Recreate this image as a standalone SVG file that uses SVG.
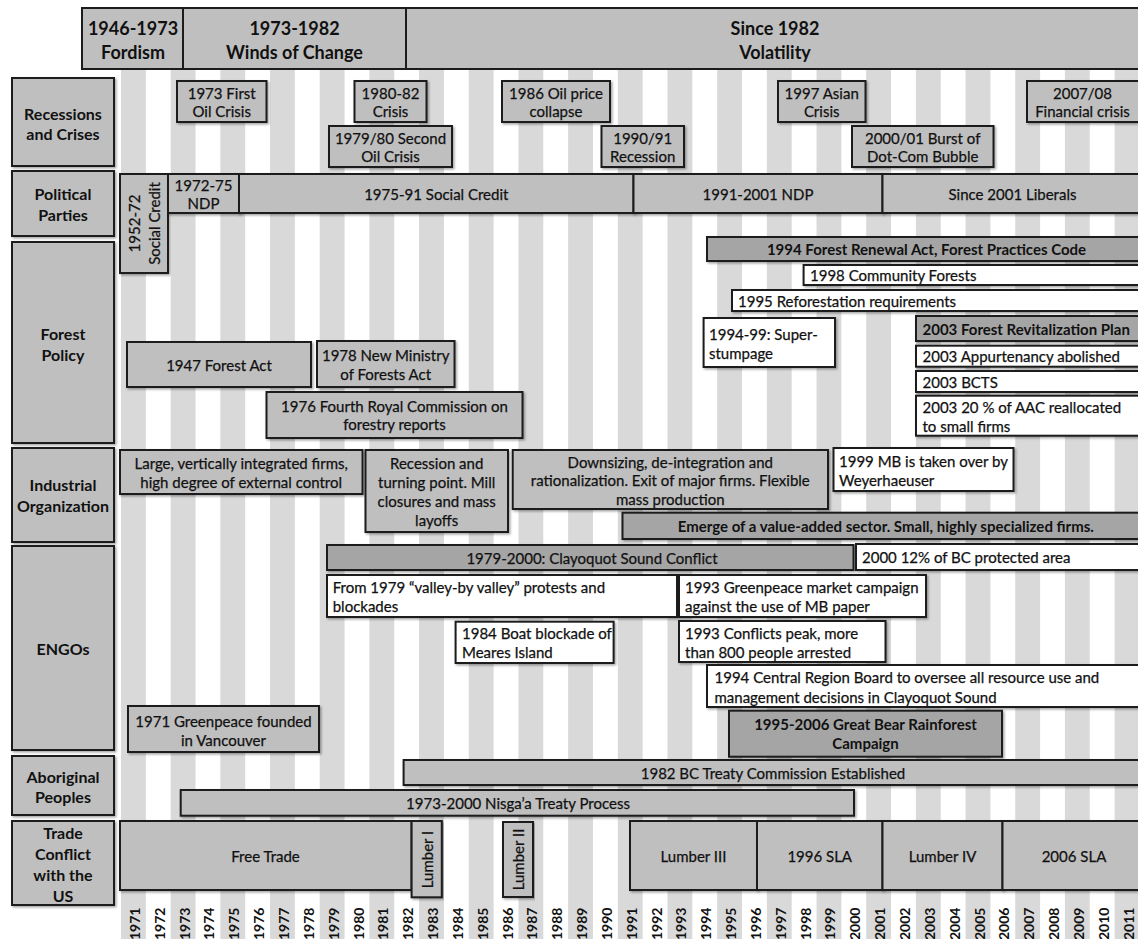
<svg xmlns="http://www.w3.org/2000/svg" width="1138" height="939" viewBox="0 0 1138 939">
<defs>
<filter id="sh" x="-5%" y="-10%" width="110%" height="130%">
<feDropShadow dx="1.5" dy="1.5" stdDeviation="0.8" flood-color="#000" flood-opacity="0.35"/>
</filter>
<style>
.bx{fill:#bfbfbf;stroke:#1c1c1c;stroke-width:2;filter:url(#sh)}
.dk{fill:#a5a5a5;stroke:#1c1c1c;stroke-width:2;filter:url(#sh)}
.wh{fill:#ffffff;stroke:#1c1c1c;stroke-width:2;filter:url(#sh)}
.hd{fill:#bfbfbf;stroke:#1c1c1c;stroke-width:2}
.st{fill:#d9d9d9}
text{font-family:Lato,"Liberation Sans",sans-serif;fill:#111;dominant-baseline:central}
.t{font-size:15px;stroke:#111;stroke-width:0.25}
.c{text-anchor:middle}
.b{font-weight:bold;stroke-width:0}
.h{font-size:18px;font-weight:bold;text-anchor:middle}
.l{font-size:16px;font-weight:bold;text-anchor:middle}
.yr{font-size:14px;font-weight:bold}
</style>
</defs>
<rect x="0" y="0" width="1138" height="939" fill="#ffffff"/>
<g id="stripes">
<rect class="st" x="121" y="69" width="24.84" height="870"/>
<rect class="st" x="170.68" y="69" width="24.84" height="870"/>
<rect class="st" x="220.36" y="69" width="24.84" height="870"/>
<rect class="st" x="270.04" y="69" width="24.84" height="870"/>
<rect class="st" x="319.72" y="69" width="24.84" height="870"/>
<rect class="st" x="369.4" y="69" width="24.84" height="870"/>
<rect class="st" x="419.08" y="69" width="24.84" height="870"/>
<rect class="st" x="468.76" y="69" width="24.84" height="870"/>
<rect class="st" x="518.44" y="69" width="24.84" height="870"/>
<rect class="st" x="568.12" y="69" width="24.84" height="870"/>
<rect class="st" x="617.8" y="69" width="24.84" height="870"/>
<rect class="st" x="667.48" y="69" width="24.84" height="870"/>
<rect class="st" x="717.16" y="69" width="24.84" height="870"/>
<rect class="st" x="766.84" y="69" width="24.84" height="870"/>
<rect class="st" x="816.52" y="69" width="24.84" height="870"/>
<rect class="st" x="866.2" y="69" width="24.84" height="870"/>
<rect class="st" x="915.88" y="69" width="24.84" height="870"/>
<rect class="st" x="965.56" y="69" width="24.84" height="870"/>
<rect class="st" x="1015.24" y="69" width="24.84" height="870"/>
<rect class="st" x="1064.92" y="69" width="24.84" height="870"/>
<rect class="st" x="1114.6" y="69" width="24.84" height="870"/>
</g>

<g id="header">
<g id="era-fordism"><rect class="hd" x="82" y="8" width="101" height="61"/>
<text class="h" x="133" y="28">1946-1973</text><text class="h" x="133" y="52">Fordism</text></g>
<g id="era-winds"><rect class="hd" x="183" y="8" width="223" height="61"/>
<text class="h" x="294.5" y="28">1973-1982</text><text class="h" x="294.5" y="52">Winds of Change</text></g>
<g id="era-volatility"><rect class="hd" x="406" y="8" width="746" height="61"/>
<text class="h" x="775" y="28">Since 1982</text><text class="h" x="775" y="52">Volatility</text></g>
</g>

<g id="row-labels">
<g id="lbl-recessions"><rect class="bx" x="12" y="78" width="102" height="88"/>
<text class="l" x="63" y="113">Recessions</text><text class="l" x="63" y="133">and Crises</text></g>
<g id="lbl-political"><rect class="bx" x="12" y="171" width="102" height="65"/>
<text class="l" x="63" y="193">Political</text><text class="l" x="63" y="214">Parties</text></g>
<g id="lbl-forest"><rect class="bx" x="12" y="242" width="102" height="201"/>
<text class="l" x="63" y="333">Forest</text><text class="l" x="63" y="354">Policy</text></g>
<g id="lbl-industrial"><rect class="bx" x="12" y="448" width="102" height="94"/>
<text class="l" x="63" y="484">Industrial</text><text class="l" x="63" y="505">Organization</text></g>
<g id="lbl-engos"><rect class="bx" x="12" y="546" width="102" height="204"/>
<text class="l" x="63" y="648">ENGOs</text></g>
<g id="lbl-aboriginal"><rect class="bx" x="12" y="756" width="102" height="59"/>
<text class="l" x="63" y="776">Aboriginal</text><text class="l" x="63" y="796">Peoples</text></g>
<g id="lbl-trade"><rect class="bx" x="12" y="821" width="102" height="84"/>
<text class="l" x="63" y="832">Trade</text><text class="l" x="63" y="853">Conflict</text><text class="l" x="63" y="874">with the</text><text class="l" x="63" y="895">US</text></g>
</g>

<g id="recessions">
<g id="r-1973"><rect class="bx" x="177" y="81" width="89.5" height="41"/>
<text class="t c" x="221.7" y="92.5">1973 First</text><text class="t c" x="221.7" y="111">Oil Crisis</text></g>
<g id="r-1980"><rect class="bx" x="354.5" y="81" width="72" height="41"/>
<text class="t c" x="390.5" y="92.5">1980-82</text><text class="t c" x="390.5" y="111">Crisis</text></g>
<g id="r-1979"><rect class="bx" x="329" y="126" width="123" height="41"/>
<text class="t c" x="390.5" y="137.5">1979/80 Second</text><text class="t c" x="390.5" y="156">Oil Crisis</text></g>
<g id="r-1986"><rect class="bx" x="502" y="81" width="108" height="41"/>
<text class="t c" x="556" y="92.5">1986 Oil price</text><text class="t c" x="556" y="111">collapse</text></g>
<g id="r-1990"><rect class="bx" x="601.5" y="126" width="82.5" height="41"/>
<text class="t c" x="642.7" y="137.5">1990/91</text><text class="t c" x="642.7" y="156">Recession</text></g>
<g id="r-1997"><rect class="bx" x="778" y="81" width="87.5" height="41"/>
<text class="t c" x="821.7" y="92.5">1997 Asian</text><text class="t c" x="821.7" y="111">Crisis</text></g>
<g id="r-2000"><rect class="bx" x="852" y="126" width="141.5" height="41"/>
<text class="t c" x="922.7" y="137.5">2000/01 Burst of</text><text class="t c" x="922.7" y="156">Dot-Com Bubble</text></g>
<g id="r-2007"><rect class="bx" x="1027" y="81" width="113" height="41"/>
<text class="t c" x="1082.5" y="92.5">2007/08</text><text class="t c" x="1082.5" y="111">Financial crisis</text></g>
</g>

<g id="political">
<g id="p-socred-1952"><rect class="bx" x="120" y="174" width="48" height="99"/>
<text class="t c" transform="translate(144,223.5) rotate(-90)"><tspan x="0" y="-10">1952-72</tspan><tspan x="0" y="10">Social Credit</tspan></text></g>
<g id="p-ndp-1972"><rect class="bx" x="168" y="174" width="71" height="39"/>
<text class="t c" x="203.5" y="184.5">1972-75</text><text class="t c" x="203.5" y="203">NDP</text></g>
<g id="p-socred-1975"><rect class="bx" x="239" y="174" width="394.5" height="39"/>
<text class="t c" x="436.3" y="194">1975-91 Social Credit</text></g>
<g id="p-ndp-1991"><rect class="bx" x="633.5" y="174" width="249" height="39"/>
<text class="t c" x="758" y="194">1991-2001 NDP</text></g>
<g id="p-liberals"><rect class="bx" x="882.5" y="174" width="270" height="39"/>
<text class="t c" x="1012.5" y="194">Since 2001 Liberals</text></g>
</g>

<g id="forest-policy">
<g id="f-1947"><rect class="bx" x="127" y="342" width="184" height="45"/>
<text class="t c" x="219" y="365">1947 Forest Act</text></g>
<g id="f-1978"><rect class="bx" x="317" y="341" width="137.5" height="46"/>
<text class="t c" x="385.7" y="355">1978 New Ministry</text><text class="t c" x="385.7" y="374">of Forests Act</text></g>
<g id="f-1976"><rect class="bx" x="266.5" y="392" width="256" height="46"/>
<text class="t c" x="394.5" y="405.5">1976 Fourth Royal Commission on</text><text class="t c" x="394.5" y="424">forestry reports</text></g>
<g id="f-1994"><rect class="dk" x="707" y="237" width="445" height="24"/>
<text class="t c b" x="926.5" y="249">1994 Forest Renewal Act, Forest Practices Code</text></g>
<g id="f-1998"><rect class="wh" x="803.6" y="265" width="350" height="20"/>
<text class="t" x="810" y="275">1998 Community Forests</text></g>
<g id="f-1995"><rect class="wh" x="732" y="290" width="420" height="21"/>
<text class="t" x="738" y="300.5">1995 Reforestation requirements</text></g>
<g id="f-super"><rect class="wh" x="703.6" y="318" width="131.4" height="49"/>
<text class="t" x="709" y="334">1994-99: Super-</text><text class="t" x="709" y="353">stumpage</text></g>
<g id="f-2003-plan"><rect class="dk" x="916" y="316" width="236" height="25"/>
<text class="t b" x="922.5" y="328.5">2003 Forest Revitalization Plan</text></g>
<g id="f-2003-app"><rect class="wh" x="916" y="345.7" width="236" height="21"/>
<text class="t" x="922.5" y="356">2003 Appurtenancy abolished</text></g>
<g id="f-2003-bcts"><rect class="wh" x="916" y="371" width="236" height="21"/>
<text class="t" x="922.5" y="381.5">2003 BCTS</text></g>
<g id="f-2003-aac"><rect class="wh" x="916" y="395.7" width="236" height="40"/>
<text class="t" x="922.5" y="407">2003 20 % of AAC reallocated</text><text class="t" x="922.5" y="426">to small firms</text></g>
</g>

<g id="industrial">
<g id="i-large"><rect class="bx" x="120" y="450" width="242.5" height="44"/>
<text class="t c" x="241.2" y="462.5">Large, vertically integrated firms,</text><text class="t c" x="241.2" y="481.5">high degree of external control</text></g>
<g id="i-recession"><rect class="bx" x="365.5" y="450" width="142.5" height="82"/>
<text class="t c" x="436.7" y="462.5">Recession and</text><text class="t c" x="436.7" y="481.5">turning point. Mill</text><text class="t c" x="436.7" y="501">closures and mass</text><text class="t c" x="436.7" y="520">layoffs</text></g>
<g id="i-downsizing"><rect class="bx" x="512.7" y="450" width="315.3" height="59"/>
<text class="t c" x="670.3" y="461.5">Downsizing, de-integration and</text><text class="t c" x="670.3" y="480">rationalization. Exit of major firms. Flexible</text><text class="t c" x="670.3" y="498.5">mass production</text></g>
<g id="i-mb"><rect class="wh" x="833.5" y="448" width="180" height="43"/>
<text class="t" x="839" y="460.5">1999 MB is taken over by</text><text class="t" x="839" y="479.5">Weyerhaeuser</text></g>
<g id="i-value"><rect class="dk" x="622.5" y="512.7" width="530" height="26.3"/>
<text class="t c b" x="885.8" y="526">Emerge of a value-added sector. Small, highly specialized firms.</text></g>
</g>

<g id="engos">
<g id="e-clayoquot"><rect class="dk" x="327" y="545" width="526.5" height="25"/>
<text class="t c" x="592" y="557.5">1979-2000: Clayoquot Sound Conflict</text></g>
<g id="e-2000"><rect class="wh" x="856" y="544" width="296" height="26"/>
<text class="t" x="862" y="557">2000 12% of BC protected  area</text></g>
<g id="e-valley"><rect class="wh" x="327" y="575" width="350" height="42"/>
<text class="t" x="332.7" y="587">From 1979 “valley-by valley” protests and</text><text class="t" x="332.7" y="606">blockades</text></g>
<g id="e-meares"><rect class="wh" x="455.6" y="621.7" width="158" height="41.3"/>
<text class="t" x="462" y="633">1984 Boat blockade of</text><text class="t" x="462" y="652">Meares Island</text></g>
<g id="e-greenpeace93"><rect class="wh" x="679" y="575" width="247" height="42"/>
<text class="t" x="685" y="587">1993 Greenpeace market campaign</text><text class="t" x="685" y="606">against the use of MB paper</text></g>
<g id="e-peak"><rect class="wh" x="679" y="621" width="206.5" height="41"/>
<text class="t" x="685" y="632.5">1993 Conflicts peak, more</text><text class="t" x="685" y="651.5">than 800 people arrested</text></g>
<g id="e-board"><rect class="wh" x="707" y="665" width="445" height="42"/>
<text class="t" x="714.5" y="677">1994 Central Region Board to oversee all resource use and</text><text class="t" x="714.5" y="696.5">management decisions in Clayoquot Sound</text></g>
<g id="e-greatbear"><rect class="dk" x="729" y="710.7" width="273" height="46"/>
<text class="t c b" x="865.5" y="724">1995-2006 Great Bear Rainforest</text><text class="t c b" x="865.5" y="743">Campaign</text></g>
<g id="e-greenpeace71"><rect class="bx" x="128" y="706" width="191" height="46"/>
<text class="t c" x="223.5" y="720.5">1971 Greenpeace founded</text><text class="t c" x="223.5" y="739.5">in Vancouver</text></g>
</g>

<g id="aboriginal">
<g id="a-treaty"><rect class="bx" x="403.6" y="760" width="750" height="25"/>
<text class="t c" x="773" y="772.5">1982 BC Treaty Commission Established</text></g>
<g id="a-nisgaa"><rect class="bx" x="180.7" y="790" width="673.3" height="25.7"/>
<text class="t c" x="518" y="802.8">1973-2000 Nisga’a Treaty Process</text></g>
</g>

<g id="trade">
<g id="t-free"><rect class="bx" x="120" y="821" width="291.6" height="69"/>
<text class="t c" x="265.5" y="856">Free Trade</text></g>
<g id="t-l1"><rect class="bx" x="411.6" y="821" width="30.2" height="76.3"/>
<text class="t c" transform="translate(426.7,859.5) rotate(-90)" x="0" y="0">Lumber I</text></g>
<g id="t-l2"><rect class="bx" x="503" y="822" width="30" height="75"/>
<text class="t c" transform="translate(518,859.5) rotate(-90)" x="0" y="0">Lumber II</text></g>
<g id="t-l3"><rect class="bx" x="630" y="821" width="127" height="69"/>
<text class="t c" x="693.5" y="856">Lumber III</text></g>
<g id="t-sla96"><rect class="bx" x="757" y="821" width="125.5" height="69"/>
<text class="t c" x="819.7" y="856">1996 SLA</text></g>
<g id="t-l4"><rect class="bx" x="882.5" y="821" width="120" height="69"/>
<text class="t c" x="942.5" y="856">Lumber IV</text></g>
<g id="t-sla06"><rect class="bx" x="1002.5" y="821" width="150" height="69"/>
<text class="t c" x="1074" y="856">2006 SLA</text></g>
</g>

<g id="years">
<text class="yr" transform="translate(134.4,940) rotate(-90)">1971</text>
<text class="yr" transform="translate(159.2,940) rotate(-90)">1972</text>
<text class="yr" transform="translate(184.1,940) rotate(-90)">1973</text>
<text class="yr" transform="translate(208.9,940) rotate(-90)">1974</text>
<text class="yr" transform="translate(233.8,940) rotate(-90)">1975</text>
<text class="yr" transform="translate(258.6,940) rotate(-90)">1976</text>
<text class="yr" transform="translate(283.4,940) rotate(-90)">1977</text>
<text class="yr" transform="translate(308.3,940) rotate(-90)">1978</text>
<text class="yr" transform="translate(333.1,940) rotate(-90)">1979</text>
<text class="yr" transform="translate(358,940) rotate(-90)">1980</text>
<text class="yr" transform="translate(382.8,940) rotate(-90)">1981</text>
<text class="yr" transform="translate(407.6,940) rotate(-90)">1982</text>
<text class="yr" transform="translate(432.5,940) rotate(-90)">1983</text>
<text class="yr" transform="translate(457.3,940) rotate(-90)">1984</text>
<text class="yr" transform="translate(482.2,940) rotate(-90)">1985</text>
<text class="yr" transform="translate(507,940) rotate(-90)">1986</text>
<text class="yr" transform="translate(531.8,940) rotate(-90)">1987</text>
<text class="yr" transform="translate(556.7,940) rotate(-90)">1988</text>
<text class="yr" transform="translate(581.5,940) rotate(-90)">1989</text>
<text class="yr" transform="translate(606.4,940) rotate(-90)">1990</text>
<text class="yr" transform="translate(631.2,940) rotate(-90)">1991</text>
<text class="yr" transform="translate(656,940) rotate(-90)">1992</text>
<text class="yr" transform="translate(680.9,940) rotate(-90)">1993</text>
<text class="yr" transform="translate(705.7,940) rotate(-90)">1994</text>
<text class="yr" transform="translate(730.6,940) rotate(-90)">1995</text>
<text class="yr" transform="translate(755.4,940) rotate(-90)">1996</text>
<text class="yr" transform="translate(780.2,940) rotate(-90)">1997</text>
<text class="yr" transform="translate(805.1,940) rotate(-90)">1998</text>
<text class="yr" transform="translate(829.9,940) rotate(-90)">1999</text>
<text class="yr" transform="translate(854.8,940) rotate(-90)">2000</text>
<text class="yr" transform="translate(879.6,940) rotate(-90)">2001</text>
<text class="yr" transform="translate(904.4,940) rotate(-90)">2002</text>
<text class="yr" transform="translate(929.3,940) rotate(-90)">2003</text>
<text class="yr" transform="translate(954.1,940) rotate(-90)">2004</text>
<text class="yr" transform="translate(979,940) rotate(-90)">2005</text>
<text class="yr" transform="translate(1003.8,940) rotate(-90)">2006</text>
<text class="yr" transform="translate(1028.6,940) rotate(-90)">2007</text>
<text class="yr" transform="translate(1053.5,940) rotate(-90)">2008</text>
<text class="yr" transform="translate(1078.3,940) rotate(-90)">2009</text>
<text class="yr" transform="translate(1103.2,940) rotate(-90)">2010</text>
<text class="yr" transform="translate(1128,940) rotate(-90)">2011</text>
</g>
</svg>
